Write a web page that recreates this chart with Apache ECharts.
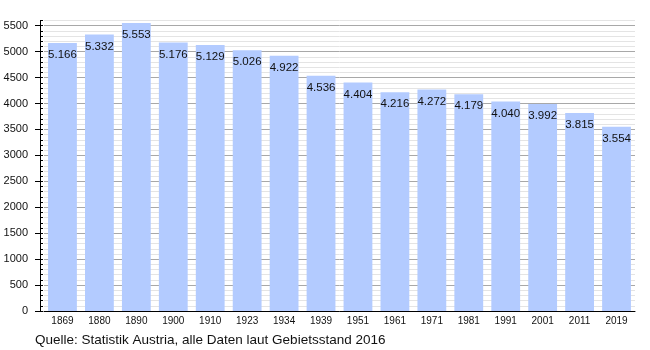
<!DOCTYPE html>
<html>
<head>
<meta charset="utf-8">
<script src="https://cdn.jsdelivr.net/npm/echarts@6/dist/echarts.min.js"></script>
<style>
  html, body { margin: 0; padding: 0; background: #fff; }
  #chart { width: 650px; height: 350px; }
</style>
</head>
<body>
<div id="chart"></div>
<script>
// Population by census year
const years = ['1869', '1880', '1890', '1900', '1910', '1923', '1934', '1939',
               '1951', '1961', '1971', '1981', '1991', '2001', '2011', '2019'];
const population = [5166, 5332, 5553, 5176, 5129, 5026, 4922, 4536,
                    4404, 4216, 4272, 4179, 4040, 3992, 3815, 3554];
const majorTicks = [0, 500, 1000, 1500, 2000, 2500, 3000, 3500, 4000, 4500, 5000, 5500];
const sourceNote = 'Quelle: Statistik Austria, alle Daten laut Gebietsstand 2016';

const FONT = '"Liberation Sans", Arial, sans-serif';

// German thousands separator: 5166 -> "5.166"
function fmtDe(v) {
  const s = String(Math.round(v));
  return s.replace(/\B(?=(\d{3})+(?!\d))/g, '.');
}

const chart = echarts.init(document.getElementById('chart'), null, { renderer: 'canvas' });

chart.setOption({
  animation: false,
  backgroundColor: '#ffffff',
  grid: { left: 44, right: 15, top: 20.5, bottom: 39, containLabel: false },
  xAxis: {
    type: 'category',
    data: years,
    axisLine: { show: true, lineStyle: { color: '#000', width: 1 } },
    axisTick: { show: false },
    axisLabel: { color: '#111', fontFamily: FONT, fontSize: 10, margin: 5 },
    splitLine: { show: false }
  },
  yAxis: [
    {
      type: 'value',
      min: 0,
      max: 5600,
      interval: 100,
      position: 'left',
      offset: 4,
      axisLine: { show: true, lineStyle: { color: '#000', width: 1 } },
      axisTick: { show: true, inside: true, length: 3, lineStyle: { color: '#000' } },
      axisLabel: {
        color: '#111', fontFamily: FONT, fontSize: 11, margin: 12,
        formatter: v => (v % 500 === 0 ? String(v) : '')
      },
      splitLine: {
        show: true,
        lineStyle: { color: ['#a8a8a8', '#e4e4e4', '#e4e4e4', '#e4e4e4', '#e4e4e4'], width: 1 }
      }
    },
    {
      type: 'value',
      min: 0,
      max: 5600,
      interval: 500,
      position: 'left',
      offset: 4,
      axisLine: { show: false },
      axisTick: { show: true, inside: false, length: 5, customValues: majorTicks, lineStyle: { color: '#000' } },
      axisLabel: { show: false },
      splitLine: { show: false }
    }
  ],
  series: [
    {
      type: 'bar',
      data: population,
      yAxisIndex: 0,
      barCategoryGap: '22%',
      itemStyle: { color: '#b3cbff' },
      label: {
        show: true,
        position: 'insideTop',
        distance: 6,
        color: '#111',
        fontFamily: FONT,
        fontSize: 11.5,
        formatter: p => fmtDe(p.value)
      }
    }
  ],
  graphic: [
    {
      type: 'text',
      left: 35,
      top: 333,
      style: { text: sourceNote, fill: '#111', font: '13.5px ' + FONT }
    }
  ]
});
</script>
</body>
</html>
